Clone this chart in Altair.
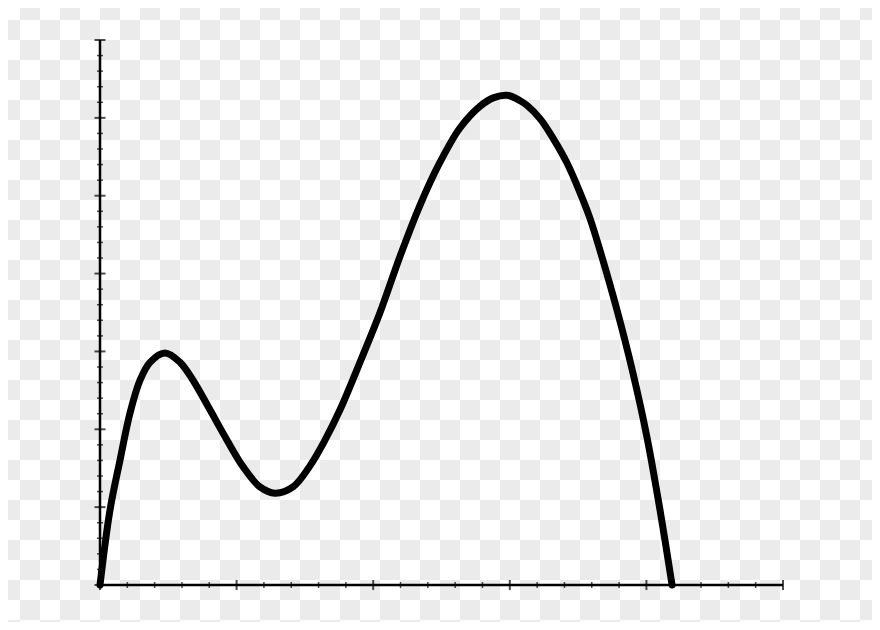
import altair as alt
import pandas as pd

# Curve (x in major x-units, y in major y-units)
curve_x = [0, 0.073, 0.146, 0.220, 0.293, 0.366, 0.476, 0.586, 0.681, 0.805,
           0.930, 1.047, 1.171, 1.281, 1.413, 1.537, 1.647, 1.757, 1.903, 2.050,
           2.196, 2.343, 2.489, 2.635, 2.782, 2.884, 2.980, 3.075, 3.126, 3.221,
           3.316, 3.419, 3.514, 3.587, 3.660, 3.785, 3.902, 4.004, 4.100, 4.188]
curve_y = [0, 0.96, 1.60, 2.21, 2.63, 2.86, 2.98, 2.86, 2.63, 2.25,
           1.86, 1.52, 1.26, 1.18, 1.26, 1.53, 1.86, 2.25, 2.86, 3.50,
           4.22, 4.88, 5.43, 5.87, 6.15, 6.26, 6.29, 6.22, 6.16, 5.99,
           5.74, 5.42, 5.04, 4.71, 4.30, 3.53, 2.72, 1.90, 0.96, 0]

# Axis ticks
x_major = [0, 1, 2, 3, 4, 5]
y_major = [0, 1, 2, 3, 4, 5, 6, 7]
minor_per_major = 5

# Checkerboard background cells
checker_cols = list(range(44))
checker_rows = list(range(32))

x_minor = [a + k / minor_per_major for a in x_major[:-1] for k in range(1, minor_per_major)]
y_minor = [a + k / minor_per_major for a in y_major[:-1] for k in range(1, minor_per_major)]

curve = pd.DataFrame({"x": curve_x, "y": curve_y})
cells = pd.DataFrame([(c, r) for c in checker_cols for r in checker_rows], columns=["col", "row"])

W, H = 683, 545
xs = alt.Scale(domain=[0, 5], nice=False, zero=False)
ys = alt.Scale(domain=[0, 7], nice=False, zero=False)

checker = alt.Chart(cells).transform_calculate(
    col2="datum.col + 1",
    row2="datum.row + 1",
    fillc="(datum.col + datum.row) % 2 == 1 ? '#ebebeb' : '#ffffff'",
).mark_rect(clip=False, strokeWidth=0).encode(
    x=alt.X("col:Q", scale=alt.Scale(domain=[0, 44], range=[-100, 780], nice=False, zero=False), axis=None),
    x2="col2:Q",
    y=alt.Y("row:Q", scale=alt.Scale(domain=[0, 32], range=[-40, 600], nice=False, zero=False), axis=None),
    y2="row2:Q",
    fill=alt.Fill("fillc:N", scale=None, legend=None),
)

# Axis lines
x_axis = alt.Chart(pd.DataFrame({"x": [x_major[0]], "x2": [x_major[-1]], "y": [y_major[0]]})).mark_rule(
    color="black", strokeWidth=2.5, clip=False
).encode(x=alt.X("x:Q", scale=xs, axis=None), x2="x2:Q", y=alt.Y("y:Q", scale=ys, axis=None))

y_axis = alt.Chart(pd.DataFrame({"y": [y_major[0]], "y2": [y_major[-1]], "x": [x_major[0]]})).mark_rule(
    color="black", strokeWidth=2.5, clip=False
).encode(y=alt.Y("y:Q", scale=ys, axis=None), y2="y2:Q", x=alt.X("x:Q", scale=xs, axis=None))

line = alt.Chart(curve).mark_line(
    color="black", strokeWidth=7, strokeCap="round", strokeJoin="round",
    interpolate="catmull-rom", clip=False
).encode(
    x=alt.X("x:Q", scale=xs, axis=None),
    y=alt.Y("y:Q", scale=ys, axis=None),
)

def yt(vals, size, thick):
    df = pd.DataFrame({"y": vals, "x": [0] * len(vals)})
    return alt.Chart(df).mark_tick(orient="horizontal", color="black", size=size,
                                   thickness=thick, clip=False).encode(
        x=alt.X("x:Q", scale=xs, axis=None), y=alt.Y("y:Q", scale=ys, axis=None))

def xt(vals, size, thick):
    df = pd.DataFrame({"x": vals, "y": [0] * len(vals)})
    return alt.Chart(df).mark_tick(orient="vertical", color="black", size=size,
                                   thickness=thick, clip=False).encode(
        x=alt.X("x:Q", scale=xs, axis=None), y=alt.Y("y:Q", scale=ys, axis=None))

main = alt.layer(
    x_axis, y_axis,
    yt(y_minor, 6, 1.5), yt(y_major, 11, 2),
    xt(x_minor, 6, 1.5), xt(x_major, 10, 2),
    line,
)

chart = alt.layer(checker, main).resolve_scale(
    x="independent", y="independent"
).properties(
    width=W, height=H,
    autosize=alt.AutoSizeParams(type="none"),
    padding={"left": 92, "top": 32, "right": 89, "bottom": 37},
    background="white",
).configure_view(stroke=None)

chart.save("out.html", embed_options={"renderer": "svg", "actions": False})
